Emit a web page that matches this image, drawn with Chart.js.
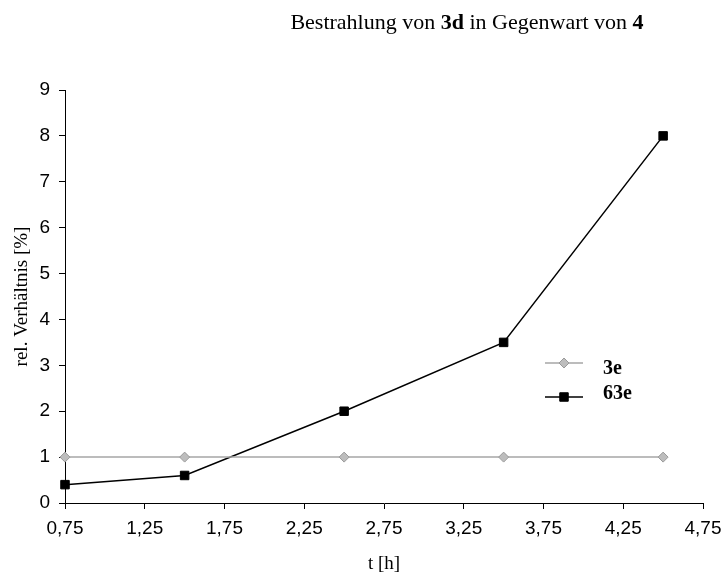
<!DOCTYPE html>
<html>
<head>
<meta charset="utf-8">
<script src="https://cdn.jsdelivr.net/npm/chart.js@4.4.1/dist/chart.umd.min.js"></script>
<style>
  html, body { margin: 0; padding: 0; background: #ffffff; }
  #wrap { width: 724px; height: 576px; }
</style>
</head>
<body>
<div id="wrap"><canvas id="chart" width="724" height="576"></canvas></div>
<script>
// Irradiation time in hours
const times = [0.75, 1.5, 2.5, 3.5, 4.5];
// Relative ratio [%] of the two products
const values3e = [1, 1, 1, 1, 1];
const values63e = [0.4, 0.6, 2, 3.5, 8];
const seriesNames = ['3e', '63e'];
// Title pieces: [text, bold]
const titleParts = [['Bestrahlung von ', false], ['3d', true], [' in Gegenwart von ', false], ['4', true]];
const xTitle = 't [h]';
const yTitle = 'rel. Verhältnis [%]';

const serif = '"Liberation Serif", "Times New Roman", serif';
const sans = '"Liberation Sans", Arial, sans-serif';

const toPoints = (ys) => times.map((t, i) => ({ x: t, y: ys[i] }));

// Title drawn with mixed bold runs
const titlePlugin = {
  id: 'mixedTitle',
  afterDraw(chart) {
    const ctx = chart.ctx;
    ctx.save();
    ctx.fillStyle = '#000';
    ctx.textBaseline = 'middle';
    const size = 22;
    let total = 0;
    const widths = titleParts.map(([txt, bold]) => {
      ctx.font = (bold ? 'bold ' : '') + size + 'px ' + serif;
      const w = ctx.measureText(txt).width;
      total += w;
      return w;
    });
    let x = 467 - total / 2;
    titleParts.forEach(([txt, bold], i) => {
      ctx.font = (bold ? 'bold ' : '') + size + 'px ' + serif;
      ctx.fillText(txt, x, 23);
      x += widths[i];
    });
    ctx.restore();
  }
};

// Legend inside the plot area
const legendPlugin = {
  id: 'innerLegend',
  afterDraw(chart) {
    const ctx = chart.ctx;
    ctx.save();
    const rows = [363, 397];
    const mx = 564;
    chart.data.datasets.forEach((ds, i) => {
      const y = rows[i];
      ctx.strokeStyle = ds.borderColor;
      ctx.lineWidth = ds.borderWidth;
      ctx.beginPath();
      ctx.moveTo(545, y);
      ctx.lineTo(583, y);
      ctx.stroke();
      ctx.fillStyle = ds.pointBackgroundColor;
      ctx.strokeStyle = ds.pointBorderColor;
      ctx.lineWidth = ds.pointBorderWidth;
      ctx.beginPath();
      if (ds.pointStyle === 'rectRot') {
        const r = ds.pointRadius;
        ctx.moveTo(mx, y - r); ctx.lineTo(mx + r, y); ctx.lineTo(mx, y + r); ctx.lineTo(mx - r, y); ctx.closePath();
      } else {
        const h = ds.pointRadius * Math.SQRT1_2;
        ctx.rect(mx - h, y - h, 2 * h, 2 * h);
      }
      ctx.fill();
      ctx.stroke();
      ctx.fillStyle = '#000';
      ctx.font = 'bold 20px ' + serif;
      ctx.textBaseline = 'middle';
      ctx.fillText(ds.label, 603, y + (i === 0 ? 6 : -3));
    });
    ctx.restore();
  }
};

new Chart(document.getElementById('chart'), {
  type: 'line',
  data: {
    datasets: [
      {
        label: seriesNames[0],
        data: toPoints(values3e),
        borderColor: '#a6a6a6',
        borderWidth: 1.5,
        pointStyle: 'rectRot',
        pointRadius: 5,
        pointHoverRadius: 5,
        pointBackgroundColor: '#bdbdbd',
        pointBorderColor: '#9a9a9a',
        pointBorderWidth: 1,
        tension: 0,
        clip: false
      },
      {
        label: seriesNames[1],
        data: toPoints(values63e),
        borderColor: '#000000',
        borderWidth: 1.5,
        pointStyle: 'rect',
        pointRadius: 6,
        pointHoverRadius: 6,
        pointBackgroundColor: '#000000',
        pointBorderColor: '#000000',
        pointBorderWidth: 1,
        tension: 0,
        clip: false
      }
    ]
  },
  options: {
    responsive: false,
    animation: false,
    events: [],
    layout: { padding: { top: 90, right: 21, left: 0, bottom: 0 } },
    plugins: {
      legend: { display: false },
      title: { display: false },
      tooltip: { enabled: false }
    },
    scales: {
      x: {
        type: 'linear',
        min: 0.75,
        max: 4.75,
        afterBuildTicks(scale) {
          const ticks = [];
          for (let v = 0.75; v <= 4.751; v += 0.5) ticks.push({ value: Math.round(v * 100) / 100 });
          scale.ticks = ticks;
        },
        afterFit(scale) {
          scale.height = 73;
          scale.paddingLeft = 0;
          scale.paddingRight = 0;
        },
        grid: { drawOnChartArea: false, drawTicks: true, tickLength: 6, color: '#000', lineWidth: 1 },
        border: { display: true, color: '#000', width: 1 },
        ticks: {
          color: '#000',
          font: { family: sans, size: 19 },
          padding: 8,
          maxRotation: 0,
          autoSkip: false,
          callback: (v) => Number(v).toFixed(2).replace('.', ',')
        },
        title: {
          display: true,
          text: xTitle,
          color: '#000',
          font: { family: serif, size: 19 },
          padding: { top: 0, bottom: 1 }
        }
      },
      y: {
        min: 0,
        max: 9,
        afterFit(scale) {
          scale.width = 65;
          scale.paddingTop = 0;
          scale.paddingBottom = 0;
        },
        grid: { drawOnChartArea: false, drawTicks: true, tickLength: 6, color: '#000', lineWidth: 1 },
        border: { display: true, color: '#000', width: 1 },
        ticks: {
          stepSize: 1,
          color: '#000',
          font: { family: sans, size: 19 },
          padding: 9
        },
        title: {
          display: true,
          text: yTitle,
          color: '#000',
          font: { family: serif, size: 19 },
          padding: { top: 11, bottom: 0 }
        }
      }
    }
  },
  plugins: [titlePlugin, legendPlugin]
});
</script>
</body>
</html>
